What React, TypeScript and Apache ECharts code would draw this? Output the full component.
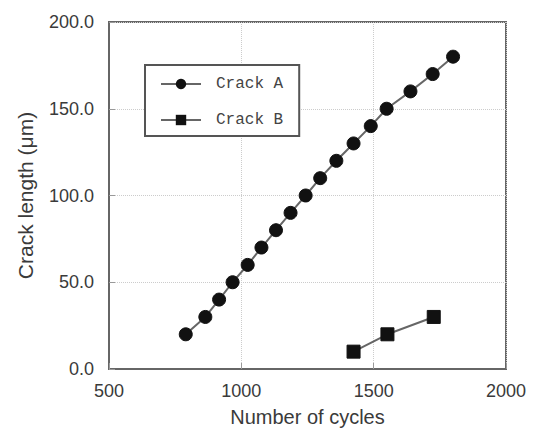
import React, { useEffect, useRef } from "react";
import * as echarts from "echarts";

const crackACycles = [790, 864, 916, 967, 1024, 1076, 1131, 1186, 1243, 1298, 1359, 1424, 1489, 1549, 1639, 1723, 1800];
const crackALength = [20, 30, 40, 50, 60, 70, 80, 90, 100, 110, 120, 130, 140, 150, 160, 170, 180];
const crackBCycles = [1424, 1552, 1727];
const crackBLength = [10, 20, 30];
const seriesNames = ["Crack A", "Crack B"];

export default function App() {
  const ref = useRef<HTMLDivElement>(null);
  useEffect(() => {
    if (!ref.current) return;
    const chart = echarts.init(ref.current, null, { renderer: "svg" });
    const labelFont = { fontFamily: "Liberation Sans", fontSize: 18, color: "#3a3a3a" };
    const lineStyle = { color: "#666", width: 2 };
    chart.setOption({
      animation: false,
      backgroundColor: "#fff",
      grid: {
        left: 109,
        right: 29,
        top: 22,
        bottom: 61,
        outerBoundsMode: "none",
        containLabel: false,
        show: true,
        borderColor: "#666",
        borderWidth: 2,
      },
      legend: {
        orient: "vertical",
        left: 145,
        top: 65,
        padding: [11, 16, 8, 15],
        itemGap: 20,
        itemWidth: 40,
        itemHeight: 13,
        borderColor: "#555",
        borderWidth: 2,
        backgroundColor: "#fff",
        data: seriesNames,
        textStyle: {
          fontFamily: "Liberation Mono",
          fontSize: 16,
          color: "#444",
          padding: [0, 0, 0, 10],
        },
      },
      xAxis: {
        type: "value",
        min: 500,
        max: 2000,
        interval: 500,
        name: "Number of cycles",
        nameLocation: "middle",
        nameGap: 38,
        nameTextStyle: { fontFamily: "Liberation Sans", fontSize: 20, color: "#3a3a3a" },
        axisLine: { show: true, lineStyle: { color: "#666", width: 2 } },
        axisTick: { show: true, inside: true, length: 6, lineStyle: { color: "#999" } },
        axisLabel: { ...labelFont, margin: 13, formatter: (v: number) => String(v) },
        splitLine: { show: true, lineStyle: { color: "#ccc", type: "dotted", width: 1 } },
      },
      yAxis: {
        type: "value",
        min: 0,
        max: 200,
        interval: 50,
        name: "Crack length (μm)",
        nameLocation: "middle",
        nameGap: 73,
        nameTextStyle: { fontFamily: "Liberation Sans", fontSize: 21, color: "#3a3a3a" },
        axisLine: { show: true, lineStyle: { color: "#666", width: 2 } },
        axisTick: { show: true, inside: true, length: 6, lineStyle: { color: "#999" } },
        axisLabel: { ...labelFont, margin: 15, formatter: (v: number) => v.toFixed(1) },
        splitLine: { show: true, lineStyle: { color: "#ccc", type: "dotted", width: 1 } },
      },
      series: [
        {
          name: seriesNames[0],
          type: "line",
          data: crackACycles.map((c, i) => [c, crackALength[i]]),
          symbol: "circle",
          symbolSize: 13,
          itemStyle: { color: "#111", borderColor: "#111" },
          lineStyle,
        },
        {
          name: seriesNames[1],
          type: "line",
          data: crackBCycles.map((c, i) => [c, crackBLength[i]]),
          symbol: "rect",
          symbolSize: 13,
          itemStyle: { color: "#111", borderColor: "#111" },
          lineStyle,
        },
      ],
    });
    return () => chart.dispose();
  }, []);
  return (
    <div
      ref={ref}
      style={{ position: "fixed", left: 0, top: 0, width: 535, height: 430 }}
    />
  );
}
